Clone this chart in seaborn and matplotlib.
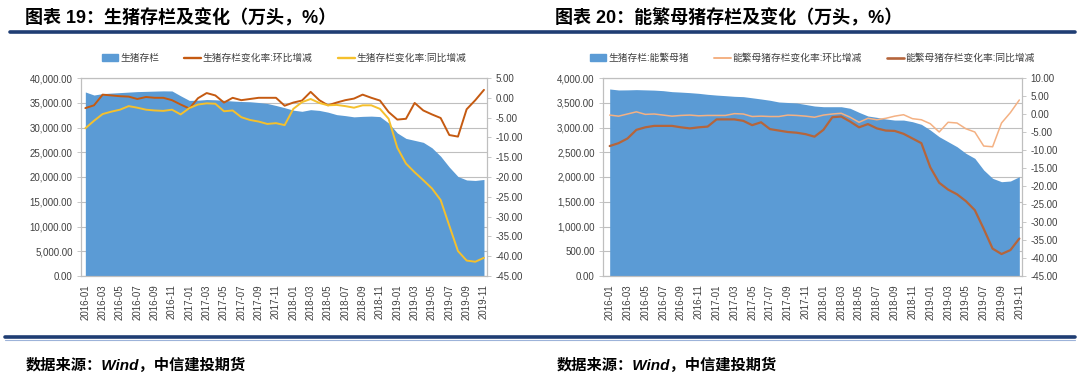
import pandas as pd
import seaborn as sns
import matplotlib.pyplot as plt
from matplotlib.lines import Line2D
from matplotlib.patches import Patch
from matplotlib.ticker import FuncFormatter, MultipleLocator

# Data
months = ['2016-01', '2016-02', '2016-03', '2016-04', '2016-05', '2016-06', '2016-07', '2016-08',
          '2016-09', '2016-10', '2016-11', '2016-12', '2017-01', '2017-02', '2017-03', '2017-04',
          '2017-05', '2017-06', '2017-07', '2017-08', '2017-09', '2017-10', '2017-11', '2017-12',
          '2018-01', '2018-02', '2018-03', '2018-04', '2018-05', '2018-06', '2018-07', '2018-08',
          '2018-09', '2018-10', '2018-11', '2018-12', '2019-01', '2019-02', '2019-03', '2019-04',
          '2019-05', '2019-06', '2019-07', '2019-08', '2019-09', '2019-10', '2019-11']

hog_stock = [37180, 36560, 36850, 36950, 37050, 37150, 37250, 37300, 37350, 37400, 37380, 36400,
             35470, 35520, 35650, 35600, 35480, 35350, 35250, 35200, 35050, 34850, 34450, 34000,
             33500, 33270, 33600, 33450, 33100, 32600, 32400, 32150, 32250, 32300, 32200, 30900,
             28900, 27800, 27400, 27000, 25900, 24200, 22000, 20100, 19400, 19300, 19500]
hog_mom = [-2.6, -1.9, 0.8, 0.6, 0.4, 0.3, -0.3, 0.2, 0.0, 0.0, -0.6, -1.7,
           -2.7, -0.1, 1.2, 0.6, -1.2, 0.0, -0.6, -0.3, 0.0, 0.0, 0.0, -2.0,
           -1.2, -0.7, 1.5, -0.6, -1.9, -1.2, -0.6, -0.2, 0.8, 0.0, -0.7, -3.6,
           -5.5, -5.3, -1.3, -3.2, -4.2, -5.1, -9.4, -9.8, -2.9, -0.6, 2.0]
hog_yoy = [-7.7, -5.8, -4.1, -3.5, -3.0, -2.1, -2.5, -3.0, -3.2, -3.3, -3.0, -4.2,
           -2.6, -1.7, -1.4, -1.5, -3.4, -3.2, -4.9, -5.6, -6.0, -6.6, -6.4, -6.9,
           -2.8, -1.1, -0.3, -1.3, -1.9, -1.8, -2.1, -2.5, -1.9, -1.9, -2.8, -5.3,
           -12.6, -16.6, -18.8, -20.8, -22.9, -25.8, -32.3, -38.7, -41.1, -41.4, -40.4]

sow_stock = [3778, 3758, 3760, 3765, 3760, 3755, 3744, 3724, 3715, 3704, 3690, 3670,
             3655, 3643, 3630, 3623, 3600, 3576, 3550, 3515, 3505, 3495, 3465, 3434,
             3420, 3420, 3420, 3388, 3306, 3232, 3205, 3172, 3150, 3150, 3117, 3064,
             2949, 2814, 2713, 2612, 2478, 2377, 2141, 1973, 1905, 1919, 2006]
sow_mom = [-0.3, -0.6, 0.0, 0.6, -0.1, 0.0, -0.3, -0.6, -0.4, -0.3, -0.5, -0.4,
           -0.4, -0.4, 0.1, 0.0, -0.7, -0.6, -0.7, -0.7, -0.3, -0.4, -0.6, -0.9,
           -0.3, 0.0, 0.2, -0.9, -2.3, -1.2, -1.6, -1.2, -0.6, -0.2, -1.3, -1.6,
           -2.7, -5.0, -2.3, -2.5, -4.1, -5.0, -8.9, -9.1, -2.5, 0.4, 3.9]
sow_yoy = [-8.9, -8.1, -6.8, -4.4, -3.7, -3.3, -3.3, -3.3, -3.7, -4.0, -3.7, -3.5,
           -1.5, -1.5, -1.5, -1.9, -3.1, -2.3, -4.2, -4.6, -5.0, -5.2, -5.6, -6.3,
           -4.4, -0.9, -0.7, -2.1, -3.7, -2.8, -4.0, -4.6, -4.7, -5.5, -6.8, -8.1,
           -14.8, -19.1, -21.0, -22.3, -24.2, -26.7, -31.9, -37.4, -38.9, -37.8, -34.6]

BLUE = '#5B9BD5'
GRID = '#BFBFBF'
TXT = '#404040'

sns.set_style('white')
plt.rcParams['font.family'] = ['Liberation Sans', 'Noto Sans CJK SC']
plt.rcParams['axes.unicode_minus'] = False

W, H = 1080, 390
fig = plt.figure(figsize=(W / 100, H / 100), dpi=100)


def draw(rect, stock, mom, yoy, labels, colors, widths, ymax, ystep, rlim, xlim):
    ax = fig.add_axes([rect[0] / W, 1 - rect[3] / H, (rect[2] - rect[0]) / W, (rect[3] - rect[1]) / H])
    x = list(range(len(months)))
    ax.fill_between(x, stock, color=BLUE, lw=0, zorder=2)
    ax.set_ylim(0, ymax)
    ax.set_xlim(*xlim)
    ax.yaxis.set_major_locator(MultipleLocator(ystep))
    ax.yaxis.set_major_formatter(FuncFormatter(lambda v, p: f'{v:,.2f}'))
    ax.grid(axis='y', color=GRID, lw=0.8)
    ax.set_axisbelow(True)
    ax.set_xticks(x[::2])
    ax.set_xticklabels(months[::2], rotation=90)

    axb = ax.twinx()
    sns.lineplot(x=x, y=mom, ax=axb, color=colors[0], linewidth=widths[0])
    sns.lineplot(x=x, y=yoy, ax=axb, color=colors[1], linewidth=widths[1])
    axb.set_ylim(*rlim)
    axb.yaxis.set_major_locator(MultipleLocator(5))
    axb.yaxis.set_major_formatter(FuncFormatter(lambda v, p: f'{v:.2f}'))

    for a in (ax, axb):
        a.tick_params(labelsize=7, colors=TXT, length=3, width=0.6, color=GRID, pad=3)
        for s in a.spines.values():
            s.set_color(GRID)
            s.set_linewidth(0.8)
    ax.set_xlabel('')
    ax.set_ylabel('')
    axb.set_ylabel('')

    handles = [Patch(color=BLUE),
               Line2D([], [], color=colors[0], lw=widths[0] + 0.3),
               Line2D([], [], color=colors[1], lw=widths[1] + 0.3)]
    axb.legend(handles, labels, loc='center', bbox_to_anchor=(0.5, 1 + 20 / 198),
               ncol=3, frameon=False, fontsize=7, handlelength=1.7, handleheight=0.6,
               handletextpad=0.2, columnspacing=2.6, labelcolor=TXT)
    return ax


draw((81, 78, 487, 276), hog_stock, hog_mom, hog_yoy,
     ['生猪存栏', '生猪存栏变化率:环比增减', '生猪存栏变化率:同比增减'],
     ['#C55A11', '#F5C02C'], [1.4, 1.4], 40000, 5000, (-45, 5), (-0.5, 46.35))

draw((603, 78, 1022, 276), sow_stock, sow_mom, sow_yoy,
     ['生猪存栏:能繁母猪', '能繁母猪存栏变化率:环比增减', '能繁母猪存栏变化率:同比增减'],
     ['#F4B183', '#B5653B'], [1.1, 1.6], 4000, 500, (-45, 10), (-0.75, 46.3))

# titles
fig.text(25 / W, 1 - 18 / H, '图表 19：生猪存栏及变化（万头，%）', fontsize=13,
         fontweight='bold', va='center', ha='left', color='black')
fig.text(555 / W, 1 - 18 / H, '图表 20：能繁母猪存栏及变化（万头，%）', fontsize=13,
         fontweight='bold', va='center', ha='left', color='black')

# rules
fig.add_artist(Line2D([10 / W, 1075 / W], [1 - 31.5 / H] * 2, transform=fig.transFigure,
                      color='#1F3D73', lw=2.6))
fig.add_artist(Line2D([5 / W, 1075 / W], [1 - 337 / H] * 2, transform=fig.transFigure,
                      color='#1F3D73', lw=2.6))
fig.add_artist(Line2D([5 / W, 1075 / W], [1 - 339.5 / H] * 2, transform=fig.transFigure,
                      color='#9DB3D9', lw=0.8))

# sources
for xs in (26, 557):
    fig.text(xs / W, 1 - 365 / H, '数据来源：Wind，中信建投期货', fontsize=11,
             fontweight='bold', style='italic', va='center', ha='left', color='black')

fig.savefig('out.png', dpi=100)
